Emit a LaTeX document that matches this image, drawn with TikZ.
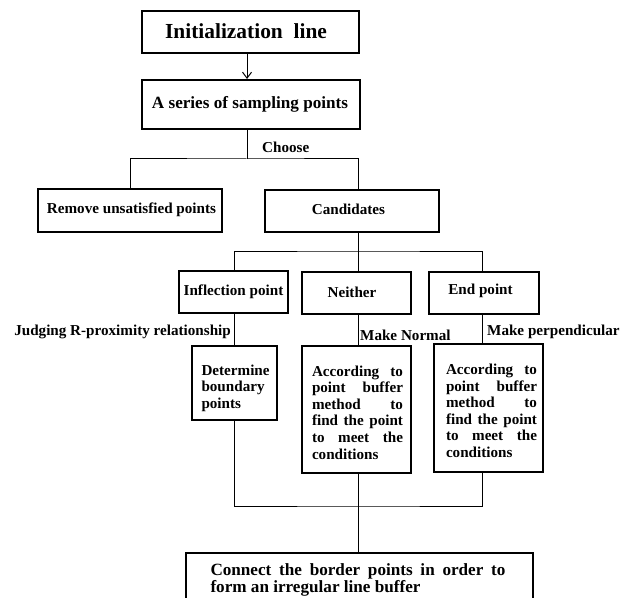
\documentclass[tikz,border=0pt]{standalone}
\usepackage{fontspec}
\setmainfont{Liberation Serif}
\usetikzlibrary{arrows.meta,calc}
\newcommand{\jline}[2]{\makebox[#1][s]{#2}}
\begin{document}
\begin{tikzpicture}[x=1bp,y=-1bp,
  txt/.style={font=\bfseries\fontsize{15.2}{16.6}\selectfont},
  bigtxt/.style={font=\bfseries\fontsize{17.2}{16.4}\selectfont},
  box/.style={draw, line width=2bp, rectangle, inner sep=0pt},
  conn/.style={line width=1bp},
  lbl/.style={inner sep=0pt, txt, align=left},
  ]
\useasboundingbox (0,0) rectangle (631,598);
\clip (0,0) rectangle (631,598);

% column positions of the vertical connectors
\coordinate (c0) at (247,0);
\coordinate (cL) at (234,0);
\coordinate (cM) at (358.5,0);
\coordinate (cR) at (482,0);
\coordinate (j1) at (247,159);
\coordinate (j2) at (358.5,251);
\coordinate (j3) at (358.5,506);

% boxes
\node[box, minimum width=217bp, minimum height=42bp] (init) at (250.5,32) {};
\node[box, minimum width=218bp, minimum height=49bp] (series) at (251,104.5) {};
\node[box, minimum width=184bp, minimum height=43bp] (remove) at (130,210.5) {};
\node[box, minimum width=174bp, minimum height=42bp] (cand) at (352,211) {};
\node[box, minimum width=109bp, minimum height=42bp] (infl) at (233,292) {};
\node[box, minimum width=109bp, minimum height=42bp] (neither) at (356.5,293) {};
\node[box, minimum width=110bp, minimum height=42bp] (endp) at (484,293) {};
\node[box, minimum width=85bp, minimum height=74bp] (determine) at (234.5,383) {};
\node[box, minimum width=109bp, minimum height=127bp] (buf1) at (356.5,409.5) {};
\node[box, minimum width=109bp, minimum height=128bp] (buf2) at (488.5,408) {};
\node[box, minimum width=347bp, minimum height=57bp] (connect) at (359.5,581.5) {};

% box texts
\node[lbl, font=\bfseries\fontsize{21.5}{24}\selectfont] (initT) at (246,31) {Initialization\ \ line};
\node[lbl, bigtxt] (seriesT) at (250,104) {A series of sampling points};
\node[lbl] (removeT) at (131.5,210) {Remove unsatisfied points};
\node[lbl] (candT) at (348.5,209) {Candidates};
\node[lbl] (inflT) at (233.5,291.5) {Inflection point};
\node[lbl] (neitherT) at (352,292.5) {Neither};
\node[lbl] (endpT) at (480.5,291) {End point};
\node[lbl] (determineT) at (235.5,388)
  {\jline{68bp}{Determine}\\\jline{68bp}{boundary}\\points};
\node[lbl] (buf1T) at (357.5,412.5)
  {\jline{91bp}{According to}\\\jline{91bp}{point buffer}\\\jline{91bp}{method to}\\
   \jline{91bp}{find the point}\\\jline{91bp}{to meet the}\\conditions};
\node[lbl] (buf2T) at (491.5,411)
  {\jline{91bp}{According to}\\\jline{91bp}{point buffer}\\\jline{91bp}{method to}\\
   \jline{91bp}{find the point}\\\jline{91bp}{to meet the}\\conditions};
\node[lbl, bigtxt] (connectT) at (358,580)
  {\jline{295bp}{Connect the border points in order to}\\form an irregular line buffer};

% labels on the connectors
\node[lbl, anchor=west] (choose) at (262,147) {Choose};
\node[lbl, anchor=east] (judge) at (231,332) {Judging R-proximity relationship};
\node[lbl, anchor=west] (normal) at (360,335) {Make Normal};
\node[lbl, anchor=west] (perp) at (487,332) {Make perpendicular};

% connectors
\draw[conn, -{Straight Barb[length=6bp,width=9bp]}] (init.south -| c0) -- (series.north -| c0);
\draw[conn] (series.south -| c0) -- (j1);
\draw[conn] (remove.north) |- (j1) -| (cand.north -| cM);
\draw[conn] (cand.south -| cM) -- (neither.north -| cM);
\draw[conn] (infl.north -| cL) |- (j2) -| (endp.north -| cR);
\draw[conn] (infl.south -| cL) -- (determine.north -| cL);
\draw[conn] (neither.south -| cM) -- (buf1.north -| cM);
\draw[conn] (endp.south -| cR) -- (buf2.north -| cR);
\draw[conn] (determine.south -| cL) |- (j3) -| (buf2.south -| cR);
\draw[conn] (buf1.south -| cM) -- (connect.north -| cM);
\end{tikzpicture}
\end{document}
